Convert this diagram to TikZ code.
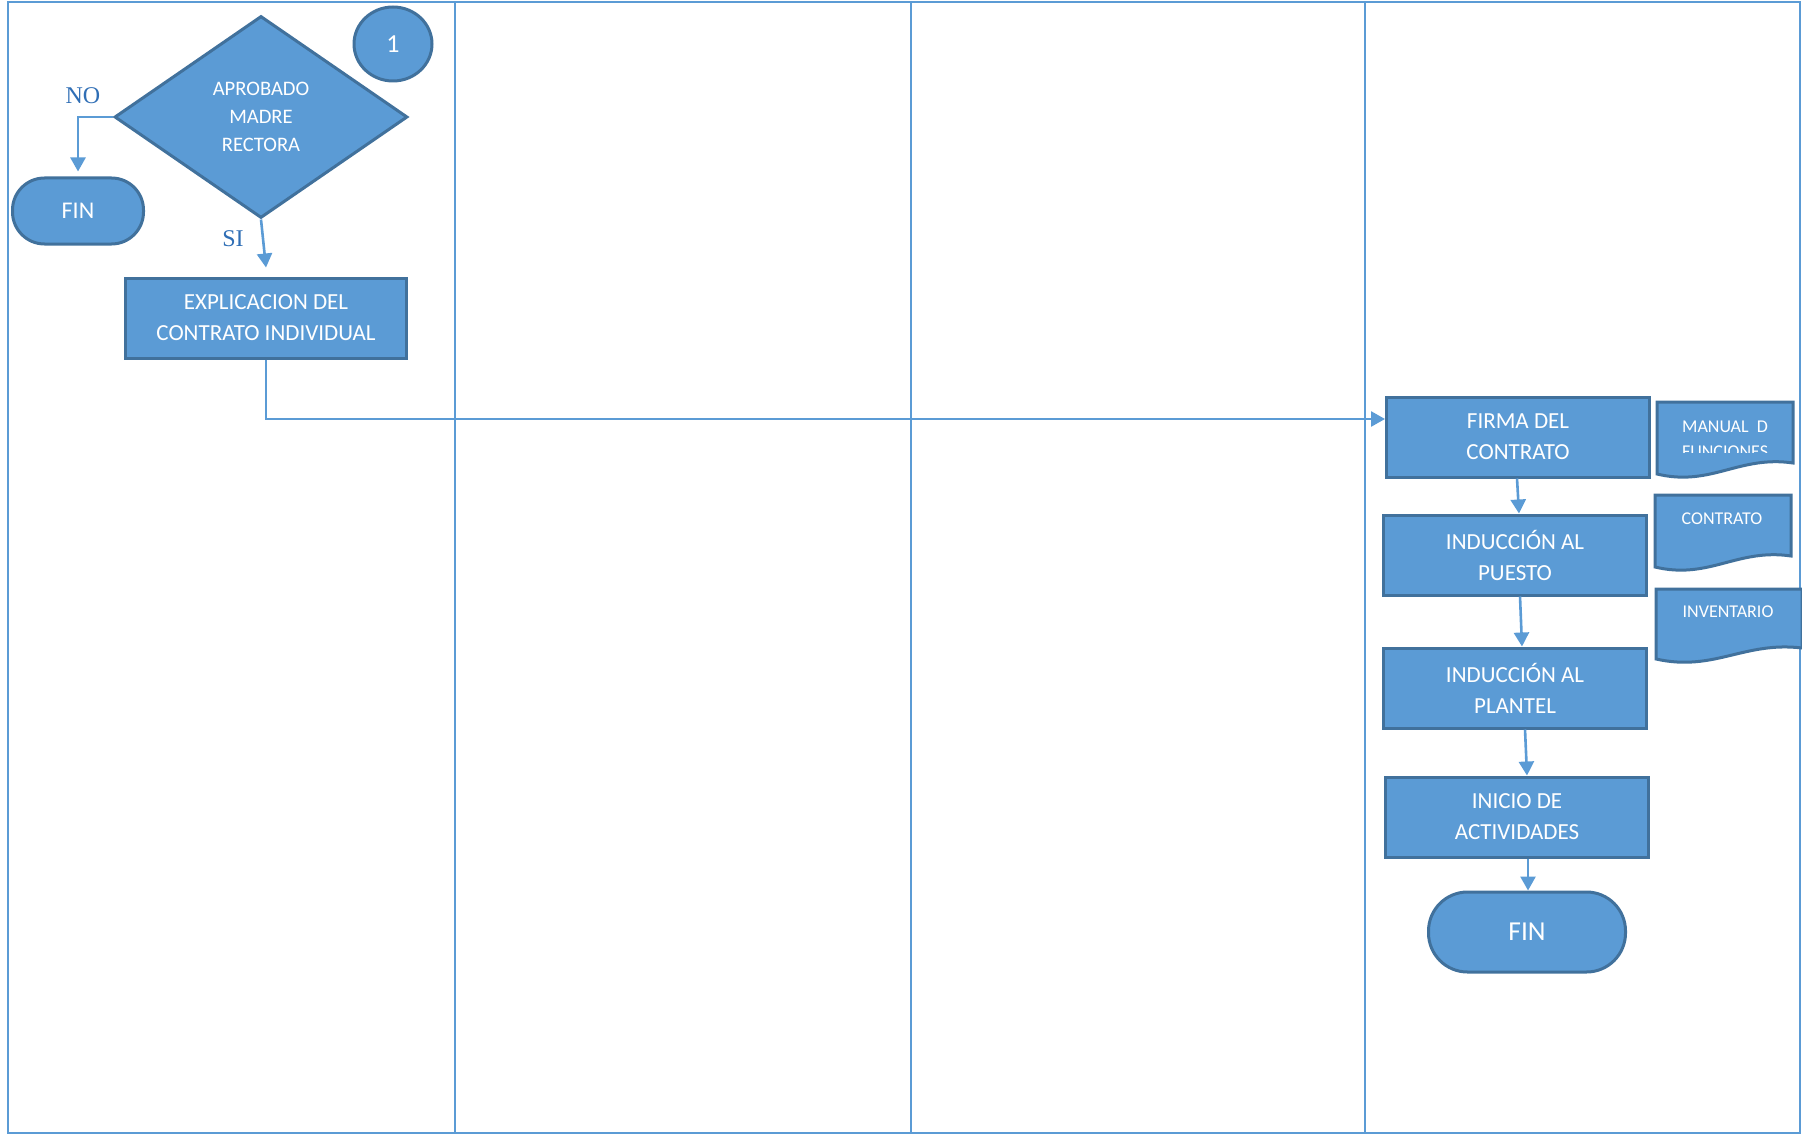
\documentclass[tikz,border=0pt]{standalone}
\usepackage{fontspec}
\usepackage{tikz}
\usetikzlibrary{arrows.meta, positioning, shapes.geometric}
\setmainfont{Carlito}
\newfontfamily\letrero{Liberation Serif}
\definecolor{azul}{HTML}{5B9BD5}
\definecolor{azulborde}{HTML}{41719C}
\definecolor{azultexto}{HTML}{2F6EB5}

\begin{document}
\begin{tikzpicture}[x=0.5pt, y=-0.5pt,
    marco/.style={draw=azul, line width=1pt},
    proc/.style={draw=azulborde, fill=azul, line width=1.5pt, text=white,
                 minimum width=#1, minimum height=40pt, align=center,
                 font=\fontsize{11.5}{15.5}\selectfont},
    proc/.default=131.5pt,
    decision/.style={diamond, draw=azulborde, fill=azul, line width=1.5pt, text=white,
                     minimum width=146.5pt, minimum height=101pt, aspect=1.45,
                     inner sep=0pt, align=center, font=\fontsize{10.3}{14}\selectfont},
    term/.style={rectangle, rounded corners=#1, draw=azulborde, fill=azul,
                 line width=1.5pt, text=white},
    numero/.style={ellipse, draw=azulborde, fill=azul, line width=1.5pt, text=white,
                   minimum width=39pt, minimum height=37pt, font=\fontsize{13}{15}\selectfont},
    docu/.style={draw=azulborde, fill=azul, line width=1.5pt},
    doctexto/.style={text=white, inner sep=0pt, align=center, font=\fontsize{9}{12.5}\selectfont},
    rotulo/.style={text=azultexto, font=\letrero\fontsize{12}{14}\selectfont},
    flecha/.style={draw=azul, line width=1.3pt, -{Triangle[length=7pt, width=7.5pt]}},
]
    \useasboundingbox (0,0) rectangle (1802,1134);
    \draw[marco] (8,2) rectangle (1800,1133);
    \draw[marco] (455,2) -- (455,1133);
    \draw[marco] (911,2) -- (911,1133);
    \draw[marco] (1365,2) -- (1365,1133);

    \node[decision] (aprobado) at (261,117) {APROBADO\\MADRE\\RECTORA};
    \node[numero] (uno) at (393,44) {1};
    \node[term=16pt, minimum width=65.5pt, minimum height=33pt,
          font=\fontsize{12}{14}\selectfont] (fin1) at (78,211) {FIN};
    \node[rotulo] (no) at (83,96) {NO};
    \node[rotulo] (si) at (233,239) {SI};
    \node[proc=140.5pt] (explicacion) at (266,318) {EXPLICACION DEL\\CONTRATO INDIVIDUAL};

    \node[proc] (firma) at (1518,437) {FIRMA DEL\\CONTRATO};
    \node[proc] (puesto) at (1515,555) {INDUCCIÓN AL\\PUESTO};
    \node[proc] (plantel) at (1515,688) {INDUCCIÓN AL\\PLANTEL};
    \node[proc] (inicio) at (1517,817) {INICIO DE\\ACTIVIDADES};
    \node[term=19.5pt, minimum width=98.5pt, minimum height=40pt,
          font=\fontsize{13.7}{16}\selectfont] (fin2) at (1527,932) {FIN};

    \draw[docu] (1657,402) -- (1793,402) -- (1793,463)
        .. controls (1739,455) and (1711,487) .. (1657,474) -- cycle;
    \draw[docu] (1655,495) -- (1791,495) -- (1791,556)
        .. controls (1737,548) and (1709,580) .. (1655,567) -- cycle;
    \draw[docu] (1656,589) -- (1802,589) -- (1802,648)
        .. controls (1744,641) and (1714,672) .. (1656,659) -- cycle;
    \begin{scope}
        \clip (1657,402) rectangle (1793,452);
        \node[doctexto] (manual) at (1725,439) {MANUAL~~D\\FUNCIONES};
    \end{scope}
    \node[doctexto] (contrato) at (1722,519) {CONTRATO};
    \node[doctexto] (inventario) at (1728,612) {INVENTARIO};

    \draw[flecha] (aprobado.west) -| ([yshift=2.5pt]fin1.north);
    \draw[flecha] (aprobado.south) -- ([yshift=4.5pt]explicacion.north);
    \draw[flecha] (explicacion.south) |- ([yshift=9pt]firma.west);
    \draw[flecha] ([xshift=-0.5pt]firma.south) -- ([xshift=2pt]puesto.north);
    \draw[flecha] ([xshift=2.5pt]puesto.south) -- ([xshift=3.5pt]plantel.north);
    \draw[flecha] ([xshift=5pt]plantel.south) -- ([xshift=5pt]inicio.north);
    \draw[flecha] ([xshift=5.5pt]inicio.south) -- ([xshift=0.5pt]fin2.north);
\end{tikzpicture}
\end{document}
